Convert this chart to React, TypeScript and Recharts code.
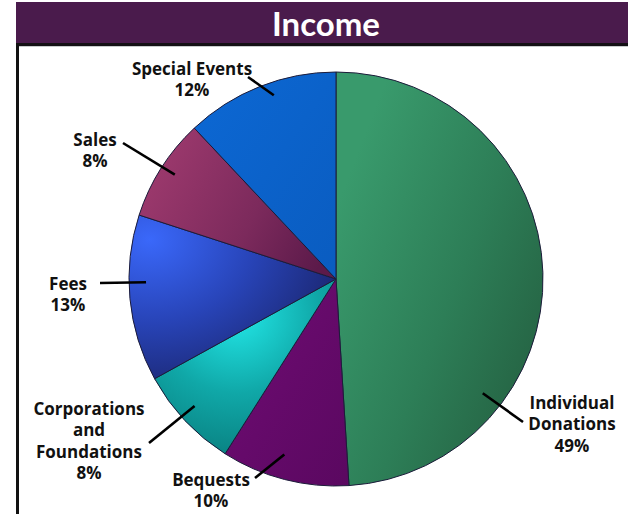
import React from "react";
import { PieChart, Pie, Cell } from "recharts";

const categories = [
  "Individual Donations",
  "Bequests",
  "Corporations and Foundations",
  "Fees",
  "Sales",
  "Special Events",
];
const shares = [49, 10, 8, 13, 8, 12];
const labelLines = [
  ["Individual", "Donations"],
  ["Bequests"],
  ["Corporations", "and", "Foundations"],
  ["Fees"],
  ["Sales"],
  ["Special Events"],
];

const data = categories.map((name, i) => ({ name, value: shares[i] }));

// label layout (leader line start: angle offset from slice mid + radius; end & text relative to pie centre)
const LAYOUT = [
  { dA: -39.7, r: 186, ex: 187, ey: 143, tx: 236, ty: 123 },
  { dA: -2, r: 183, ex: -81, ey: 199, tx: -125, ty: 200 },
  { dA: -1.3, r: 190, ex: -187, ey: 164, tx: -247, ty: 129 },
  { dA: -4.4, r: 190, ex: -236, ey: 4, tx: -268, ty: 4 },
  { dA: -0.5, r: 192, ex: -213, ey: -136, tx: -241, ty: -140 },
  { dA: -2.9, r: 194, ex: -88, ey: -202, tx: -144, ty: -211 },
];

const LABEL_FONT = "'Open Sans', Lato, sans-serif";
const TITLE_FONT = "Lato, 'Open Sans', sans-serif";
const RAD = Math.PI / 180;

const renderLabel = (props: any) => {
  const { cx, cy, midAngle, index } = props;
  const L = LAYOUT[index];
  const a = (midAngle + L.dA) * RAD;
  const sx = cx + L.r * Math.cos(a);
  const sy = cy - L.r * Math.sin(a);
  const lines = [...labelLines[index], `${shares[index]}%`];
  return (
    <g key={`lbl-${index}`}>
      <line x1={sx} y1={sy} x2={cx + L.ex} y2={cy + L.ey} stroke="#000" strokeWidth={2.6} />
      {lines.map((t, j) => (
        <text
          key={j}
          x={cx + L.tx}
          y={cy + L.ty + j * 21.5}
          textAnchor="middle"
          dominantBaseline="central"
          fontFamily={LABEL_FONT}
          fontWeight={700}
          fontSize={17}
          fill="#111"
        >
          {t}
        </text>
      ))}
    </g>
  );
};

export default function App() {
  return (
    <div style={{ position: "absolute", left: 0, top: 0, width: 628, height: 514, background: "#fff", overflow: "hidden" }}>
      <div
        style={{
          position: "absolute",
          left: 16,
          top: 2,
          width: 612,
          height: 41,
          background: "#4a1b4c",
          color: "#fff",
          fontFamily: TITLE_FONT,
          fontWeight: 700,
          fontSize: 33,
          lineHeight: "43px",
          textAlign: "center",
          paddingLeft: 8,
          boxSizing: "border-box",
        }}
      >
        Income
      </div>
      <div style={{ position: "absolute", left: 16, top: 43, width: 612, height: 3, background: "#141014" }} />
      <div style={{ position: "absolute", left: 16, top: 46, width: 612, height: 1, background: "#c8cccc" }} />
      <div style={{ position: "absolute", left: 16, top: 43, width: 3, height: 471, background: "#111" }} />
      <div style={{ position: "absolute", left: 0, top: 0 }}>
        <PieChart width={628} height={514} margin={{ top: 0, right: 0, bottom: 0, left: 0 }}>
          <defs>
            <linearGradient id="g0" x1="0.1" y1="0.2" x2="1" y2="0.9">
              <stop offset="0%" stopColor="#399a6c" />
              <stop offset="50%" stopColor="#2d7e57" />
              <stop offset="100%" stopColor="#235c3e" />
            </linearGradient>
            <linearGradient id="g1" x1="0" y1="0" x2="1" y2="1">
              <stop offset="0%" stopColor="#700c74" />
              <stop offset="100%" stopColor="#5a0860" />
            </linearGradient>
            <radialGradient id="g2" cx="0.45" cy="0.2" r="0.9">
              <stop offset="0%" stopColor="#22e8e8" />
              <stop offset="50%" stopColor="#10a8a8" />
              <stop offset="100%" stopColor="#087a7a" />
            </radialGradient>
            <radialGradient id="g3" cx="0.1" cy="0.15" r="1">
              <stop offset="0%" stopColor="#3a68fa" />
              <stop offset="50%" stopColor="#2844b8" />
              <stop offset="100%" stopColor="#1a246c" />
            </radialGradient>
            <linearGradient id="g4" x1="0" y1="0.3" x2="1" y2="0.7">
              <stop offset="0%" stopColor="#9e3a6e" />
              <stop offset="60%" stopColor="#7c2a5c" />
              <stop offset="100%" stopColor="#5c1a4a" />
            </linearGradient>
            <linearGradient id="g5" x1="0" y1="0" x2="1" y2="1">
              <stop offset="0%" stopColor="#0c68d4" />
              <stop offset="100%" stopColor="#0a5cc0" />
            </linearGradient>
          </defs>
          <Pie
            data={data}
            dataKey="value"
            nameKey="name"
            cx={336}
            cy={279}
            outerRadius={207}
            startAngle={90}
            endAngle={-270}
            stroke="#1c1c3a"
            strokeWidth={1}
            label={renderLabel}
            labelLine={false}
            isAnimationActive={false}
          >
            {data.map((d, i) => (
              <Cell key={d.name} fill={`url(#g${i})`} />
            ))}
          </Pie>
        </PieChart>
      </div>
    </div>
  );
}
